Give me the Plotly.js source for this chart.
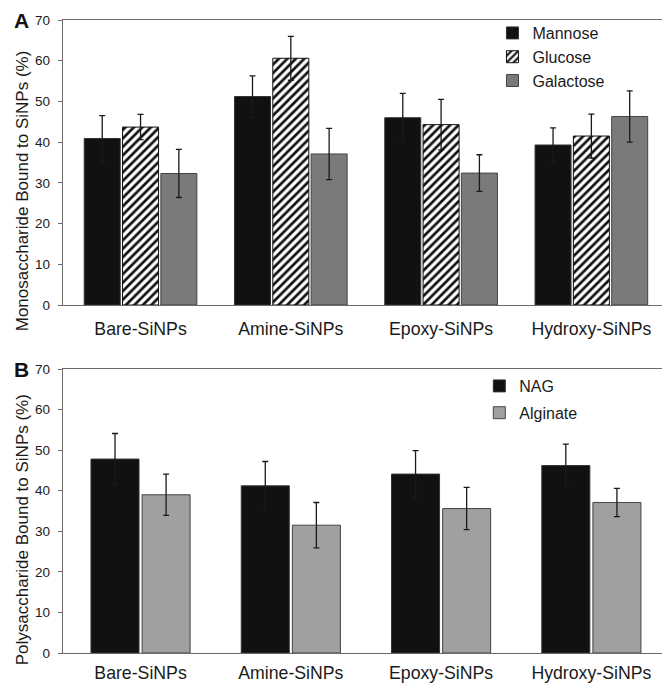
<!DOCTYPE html>
<html>
<head>
<meta charset="utf-8">
<script src="https://cdn.plot.ly/plotly-3.0.1.min.js"></script>
<style>
  html, body { margin: 0; padding: 0; background: #fff; }
  #chartA { width: 662px; height: 340px; }
  #chartB { width: 662px; height: 345px; }
</style>
</head>
<body>
<div id="chartA"></div>
<div id="chartB"></div>
<script>
// ---- data ----
const categories = ['Bare-SiNPs', 'Amine-SiNPs', 'Epoxy-SiNPs', 'Hydroxy-SiNPs'];

const mannose      = [40.9, 51.2, 46.0, 39.3];
const mannoseErr   = [5.6, 5.1, 6.0, 4.2];
const glucose      = [43.7, 60.6, 44.3, 41.5];
const glucoseErr   = [3.1, 5.4, 6.2, 5.4];
const galactose    = [32.3, 37.1, 32.4, 46.3];
const galactoseErr = [5.9, 6.3, 4.5, 6.3];

const nag          = [47.8, 41.2, 44.1, 46.2];
const nagErr       = [6.3, 6.0, 5.8, 5.3];
const alginate     = [39.0, 31.5, 35.6, 37.1];
const alginateErr  = [5.1, 5.6, 5.2, 3.5];

const yTicks = [0, 10, 20, 30, 40, 50, 60, 70];

// ---- styling ----
const FONT = 'Liberation Sans, Arial, sans-serif';
const TXT = '#1a1a1a';
const AX = '#6a6a6a';

function errBar(arr) {
  return { type: 'data', array: arr, visible: true, color: '#1a1a1a', thickness: 1.3, width: 3 };
}

function xaxis(standoff) {
  return {
    type: 'category',
    range: [-0.516, 3.47],
    showline: true, linecolor: AX, linewidth: 1.3, mirror: true,
    ticks: '', showgrid: false, zeroline: false,
    ticklabelstandoff: standoff,
    tickfont: { family: FONT, size: 17.7, color: TXT },
    fixedrange: true
  };
}
function yaxis() {
  return {
    range: [0, 70], tickvals: yTicks, ticktext: yTicks.map(String),
    showline: true, linecolor: AX, linewidth: 1.3,
    ticks: 'outside', ticklen: 4, tickcolor: AX, tickwidth: 1,
    ticklabelstandoff: 5,
    showgrid: false, zeroline: false,
    tickfont: { family: FONT, size: 13.5, color: TXT },
    fixedrange: true
  };
}

// ---- panel A ----
const tracesA = [
  { type: 'bar', name: 'Mannose', x: categories, y: mannose, error_y: errBar(mannoseErr),
    marker: { color: '#111111', line: { color: '#333333', width: 1 } } },
  { type: 'bar', name: 'Glucose', x: categories, y: glucose, error_y: errBar(glucoseErr),
    marker: { color: '#ffffff', line: { color: '#111111', width: 1 },
      pattern: { shape: '/', fgcolor: '#111111', bgcolor: '#ffffff', size: 6, solidity: 0.45 } } },
  { type: 'bar', name: 'Galactose', x: categories, y: galactose, error_y: errBar(galactoseErr),
    marker: { color: '#7a7a7a', line: { color: '#444444', width: 1 } } }
];

const layoutA = {
  width: 662, height: 340,
  margin: { l: 63, r: 0, t: 20, b: 35 },
  paper_bgcolor: '#ffffff', plot_bgcolor: '#ffffff',
  barmode: 'group', bargap: 0.235, bargroupgap: 0.06,
  font: { family: FONT, color: TXT },
  xaxis: xaxis(7), yaxis: yaxis(),
  showlegend: true,
  legend: { x: 0.717, xanchor: 'left', y: 1.014, yanchor: 'top', bgcolor: 'rgba(0,0,0,0)',
    font: { family: FONT, size: 16, color: TXT }, itemwidth: 30 },
  annotations: [
    { text: '<b>A</b>', xref: 'paper', yref: 'paper', x: -0.070, y: 1.0, xanchor: 'center', yanchor: 'middle',
      showarrow: false, font: { family: FONT, size: 21, color: '#111' } },
    { text: 'Monosaccharide Bound to SiNPs (%)', xref: 'paper', yref: 'paper', x: -0.068, y: 0.40,
      xanchor: 'center', yanchor: 'middle', textangle: -90, showarrow: false,
      font: { family: FONT, size: 17, color: TXT } }
  ]
};

// ---- panel B ----
const tracesB = [
  { type: 'bar', name: 'NAG', x: categories, y: nag, error_y: errBar(nagErr), legendgroup: 'g1',
    marker: { color: '#111111', line: { color: '#333333', width: 1 } } },
  { type: 'bar', name: 'Alginate', x: categories, y: alginate, error_y: errBar(alginateErr), legendgroup: 'g2',
    marker: { color: '#a0a0a0', line: { color: '#444444', width: 1 } } }
];

const layoutB = {
  width: 662, height: 345,
  margin: { l: 63, r: 0, t: 29, b: 32 },
  paper_bgcolor: '#ffffff', plot_bgcolor: '#ffffff',
  barmode: 'group', bargap: 0.32, bargroupgap: 0.06,
  font: { family: FONT, color: TXT },
  xaxis: xaxis(3), yaxis: yaxis(),
  showlegend: true,
  legend: { x: 0.695, xanchor: 'left', y: 1.0, yanchor: 'top', bgcolor: 'rgba(0,0,0,0)',
    traceorder: 'grouped', tracegroupgap: 3,
    font: { family: FONT, size: 16, color: TXT }, itemwidth: 30 },
  annotations: [
    { text: '<b>B</b>', xref: 'paper', yref: 'paper', x: -0.070, y: 1.0, xanchor: 'center', yanchor: 'middle',
      showarrow: false, font: { family: FONT, size: 21, color: '#111' } },
    { text: 'Polysaccharide Bound to SiNPs (%)', xref: 'paper', yref: 'paper', x: -0.068, y: 0.433,
      xanchor: 'center', yanchor: 'middle', textangle: -90, showarrow: false,
      font: { family: FONT, size: 17, color: TXT } }
  ]
};

const config = { displayModeBar: false, staticPlot: true };
Plotly.newPlot('chartA', tracesA, layoutA, config);
Plotly.newPlot('chartB', tracesB, layoutB, config);
</script>
</body>
</html>
